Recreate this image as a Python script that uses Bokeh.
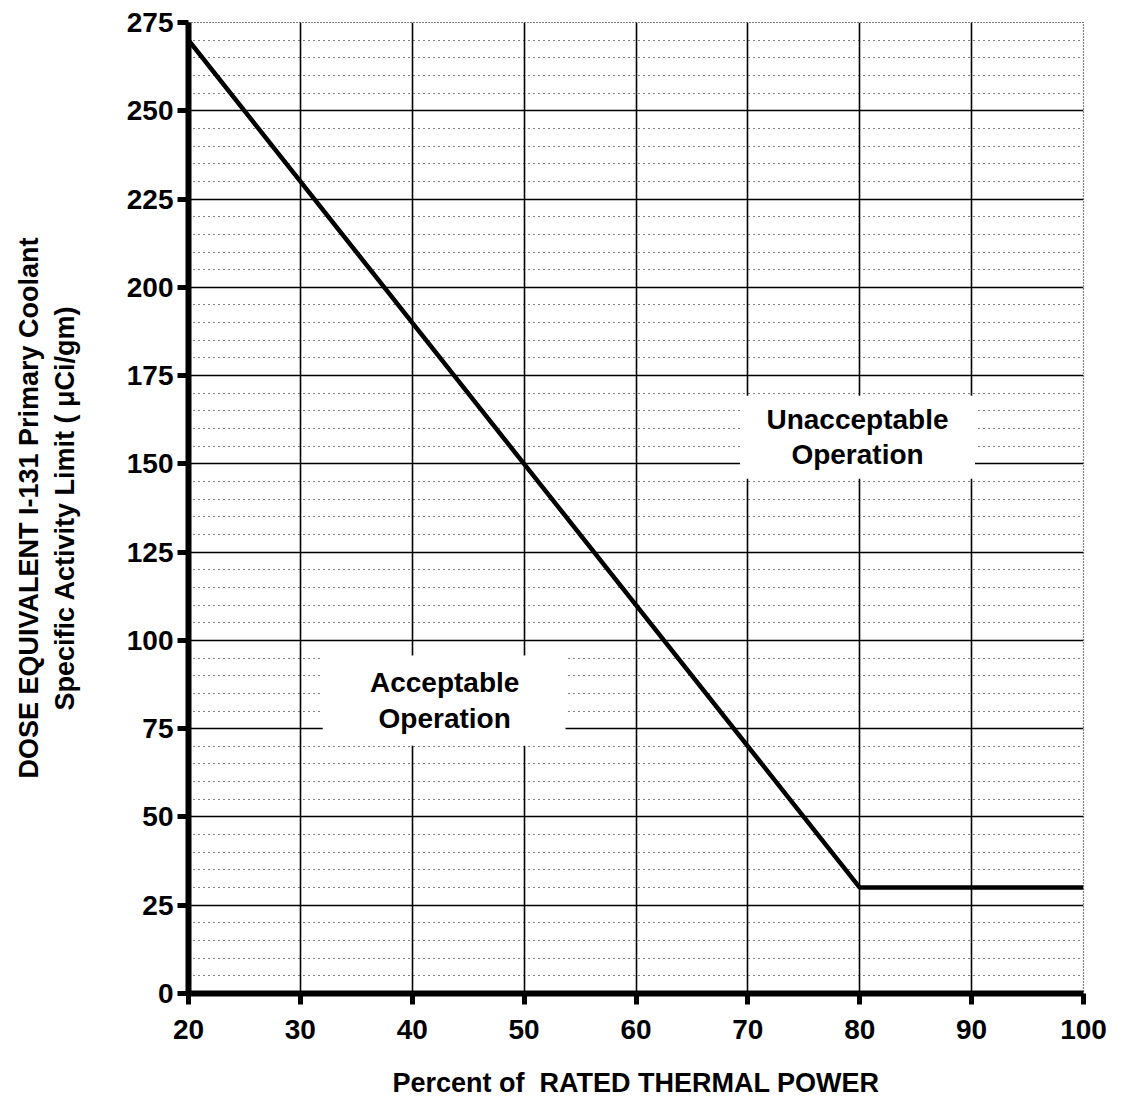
from bokeh.plotting import figure
from bokeh.models import Range1d, FixedTicker, Label
from bokeh.embed import file_html
from bokeh.resources import INLINE

# Data
power_pct = [20, 80, 100]
limit_uci = [270, 30, 30]
x_ticks = [20, 30, 40, 50, 60, 70, 80, 90, 100]
y_ticks = [0, 25, 50, 75, 100, 125, 150, 175, 200, 225, 250, 275]

FONT = "Liberation Sans"

p = figure(width=1110, height=1100, output_backend="svg", toolbar_location=None,
           x_range=Range1d(20, 100), y_range=Range1d(0, 275),
           min_border_left=188, min_border_right=27, min_border_top=22, min_border_bottom=107)
p.background_fill_color = "white"
p.border_fill_color = "white"
p.outline_line_color = "black"
p.outline_line_dash = "1 2"
p.outline_line_width = 1.2

# grids
p.xgrid.ticker = FixedTicker(ticks=x_ticks[1:-1])
p.xgrid.grid_line_color = "black"
p.xgrid.grid_line_width = 1.6
minor_y = [v for v in range(5, 275, 5) if v % 25 != 0]
p.ygrid.ticker = FixedTicker(ticks=y_ticks[1:-1], minor_ticks=minor_y)
p.ygrid.grid_line_color = "black"
p.ygrid.grid_line_width = 1.6
p.ygrid.minor_grid_line_color = "black"
p.ygrid.minor_grid_line_dash = "1 4"
p.ygrid.minor_grid_line_width = 1.0

# axes
for ax in (p.xaxis, p.yaxis):
    ax.axis_line_width = 6
    ax.axis_line_color = "black"
    ax.major_tick_line_width = 5
    ax.major_tick_line_color = "black"
    ax.major_tick_out = 11
    ax.major_tick_in = 0
    ax.minor_tick_line_color = None
    ax.major_label_text_font = FONT
    ax.major_label_text_font_style = "bold"
    ax.major_label_text_font_size = "28px"
    ax.major_label_text_color = "black"
    ax.axis_label_text_font = FONT
    ax.axis_label_text_font_style = "bold"
    ax.axis_label_text_font_size = "27px"
    ax.axis_label_text_color = "black"

p.xaxis.ticker = FixedTicker(ticks=x_ticks)
p.yaxis.ticker = FixedTicker(ticks=y_ticks)
p.xaxis.major_label_standoff = 15
p.yaxis.major_label_standoff = 4
p.xaxis.axis_label = "Percent of\u00a0 RATED THERMAL POWER"
p.xaxis.axis_label_standoff = 26
p.yaxis.axis_label = "DOSE EQUIVALENT I-131 Primary Coolant\nSpecific Activity Limit ( \u03bcCi/gm)"
p.yaxis.axis_label_standoff = 44

# white boxes behind region labels
p.quad(left=[32.0, 69.3], right=[53.7, 90.3], bottom=[70.2, 145.8], top=[95.7, 169.3],
       fill_color="white", line_color=None)

# limit line
p.line(power_pct, limit_uci, line_color="black", line_width=4.5)

for (lx, ly, txt) in [(42.9, 83.0, "Acceptable\nOperation"), (79.8, 157.6, "Unacceptable\nOperation")]:
    p.add_layout(Label(x=lx, y=ly, text=txt, text_align="center", text_baseline="middle",
                       text_font=FONT, text_font_style="bold", text_font_size="28px",
                       text_color="black", text_line_height=1.15))

open("out.html", "w").write(file_html(p, INLINE))
